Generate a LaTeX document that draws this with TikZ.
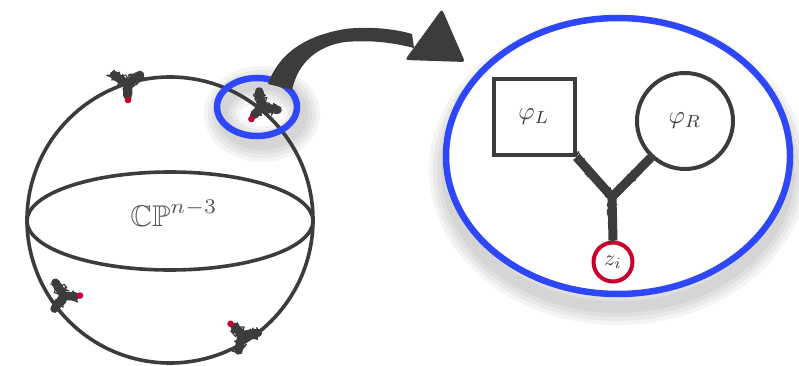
\documentclass[tikz,border=0pt]{standalone}
\usepackage{amssymb}
\usetikzlibrary{shapes.geometric,decorations.pathmorphing}
\definecolor{ink}{HTML}{3C3C3C}
\definecolor{pblue}{HTML}{2F47FA}
\definecolor{pred}{HTML}{C8002D}
\tikzset{
  inkline/.style={draw=ink, line width=3.6pt},
  bluering/.style={draw=pblue, line width=6.5pt, ellipse, inner sep=0pt},
  fuzzcore/.style={draw=ink, line width=8.5pt, line cap=round},
  fuzz/.style={draw=ink, line width=1.2pt, line cap=round, line join=round, decorate,
    decoration={random steps, segment length=1.5pt, amplitude=7pt}},
  fuzzb/.style={fuzz, decoration={random steps, segment length=1pt, amplitude=6pt}},
  shadowring/.style={draw=black, opacity=0.045},
  vtx/.pic={
    \foreach \e in {(0,-11),(-13,9),(13,9)}{
      \draw[fuzzcore] (0,0) -- \e;
      \draw[fuzz] (0,0) -- \e;
      \draw[fuzzb] (0,0) -- \e;
    }
    \fill[pred] (1,-16) circle (3.3pt);
  }
}
\begin{document}
\begin{tikzpicture}[x=1pt,y=1pt]
\useasboundingbox (0,0) rectangle (799,-366);

% shadows
\foreach \w in {36,28,20,12}{
  \draw[shadowring, line width=\w pt] (618,-170) ellipse [x radius=171, y radius=137];
  \draw[shadowring, line width=\w pt] (262,-114) ellipse [x radius=40, y radius=30];
}

% sphere
\node[inkline, circle, minimum size=286pt, inner sep=0pt] (sphere) at (170,-220) {};
\node[inkline, ellipse, minimum width=286pt, minimum height=98pt, inner sep=0pt] (equator) at (170,-221) {};
\node[text=ink!85] (cp) at (174,-213) {\scalebox{3}{$\mathbb{CP}^{n-3}$}};

% vertices on sphere
\pic at (127,-84) {vtx};
\pic[rotate=-45] at (262,-107) {vtx};
\pic[rotate=88] at (64,-296) {vtx};
\pic[rotate=-138] at (242,-335) {vtx};

% small blue ring
\node[bluering, minimum width=80pt, minimum height=58pt] (zoomsrc) at (257,-107) {};

% arrow
\coordinate (tailL) at (268,-84);
\coordinate (tailR) at (292,-90);
\fill[ink] (tailL) .. controls (280,-50) and (310,-35) .. (345,-29)
  .. controls (370,-26) and (395,-29) .. (412,-34) -- (414,-48)
  .. controls (390,-42) and (370,-40) .. (345,-42)
  .. controls (318,-46) and (298,-62) .. (tailR) -- cycle;
\fill[ink, rounded corners=3pt] (442,-9) -- (465,-62) -- (405,-60) -- cycle;

% big blue ellipse
\node[bluering, minimum width=344pt, minimum height=276pt, fill=white] (zoomed) at (618,-156) {};

% inside
\node[inkline, line width=4pt, minimum width=81pt, minimum height=76pt, text=ink] (phiL) at (534,-117) {\scalebox{2.5}{$\varphi_L$}};
\node[inkline, line width=4pt, circle, minimum size=96pt, inner sep=0pt, text=ink] (phiR) at (685,-121) {\scalebox{2.5}{$\varphi_R$}};
\node[draw=pred, line width=4pt, circle, minimum size=39pt, inner sep=0pt, text=ink] (zi) at (613,-262) {\scalebox{2.2}{$z_i$}};
\coordinate (junc) at (612,-197);
\foreach \a/\b in {phiL.south east/junc, phiR.-133/junc, junc/zi.north}{
  \draw[fuzzcore, line width=9pt, line cap=butt] (\a) -- (\b);
  \draw[fuzz, decoration={random steps, segment length=1.5pt, amplitude=5pt}] (\a) -- (\b);
}
\end{tikzpicture}
\end{document}
